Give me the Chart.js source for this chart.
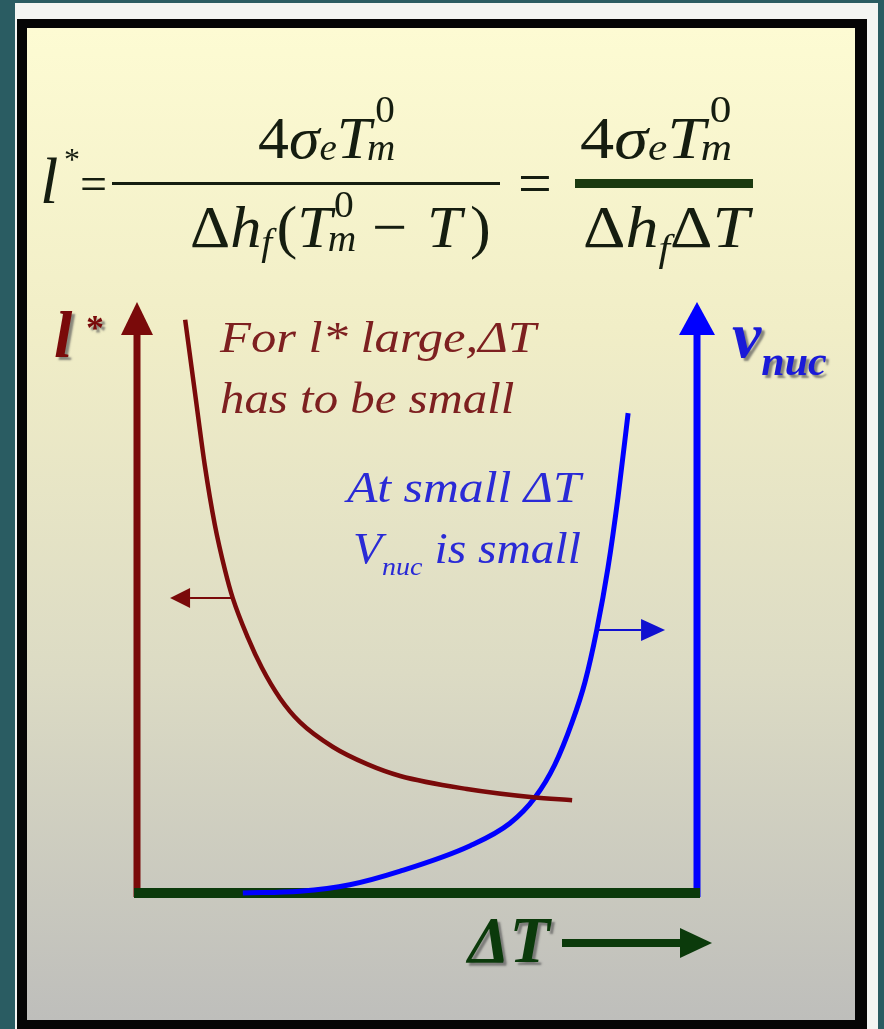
<!DOCTYPE html>
<html>
<head>
<meta charset="utf-8">
<script src="https://cdn.jsdelivr.net/npm/chart.js@4.4.1/dist/chart.umd.min.js"></script>
<style>
html, body { margin: 0; padding: 0; background: #2a5c62; overflow: hidden; }
canvas { display: block; }
</style>
</head>
<body>
<canvas id="lamellaChart" width="884" height="1029"></canvas>
<script>
// undercooling in arbitrary units, 0 at the l* axis and 100 at the v_nuc axis
var lamellaDT = [8.6, 10.4, 12.1, 13.9, 15.7, 17.1, 19.8, 22.3, 25.5, 29.1, 35.0, 41.1, 47.0, 58.9, 70.7, 77.7];
var lamellaL = [97.0, 84.3, 72.4, 62.3, 54.7, 49.9, 43.2, 38.1, 33.0, 28.9, 24.7, 21.8, 19.8, 17.6, 16.2, 15.7];
var nucDT = [18.9, 29.1, 38.0, 47.0, 59.5, 66.6, 71.1, 74.6, 77.7, 80.0, 82.1, 84.1, 85.9, 87.7];
var nucRate = [0, 0.3, 1.4, 3.7, 8.0, 11.8, 16.2, 21.7, 28.9, 35.7, 44.5, 55.0, 67.0, 81.2];

var RED = '#7a0a0a';
var BLUE = '#0000ff';
var GREEN = '#0b3a0b';
var SERIF = '"Liberation Serif", "Times New Roman", serif';

function pairs(xs, ys) {
    return xs.map(function (x, i) { return { x: x, y: ys[i] }; });
}

function fontOf(p) {
    return (p.i ? 'italic ' : '') + (p.b ? 'bold ' : '') + p.s + 'px ' + SERIF;
}
function pieceWidth(ctx, p) {
    if (p.stack) return Math.max(pieceWidth(ctx, p.stack[0]), pieceWidth(ctx, p.stack[1]));
    ctx.font = fontOf(p);
    return ctx.measureText(p.t).width + (p.gap || 0) + (p.dx || 0);
}
function drawPieces(ctx, pieces, x, y) {
    pieces.forEach(function (p) {
        if (p.stack) {
            drawPieces(ctx, [p.stack[0]], x, y);
            drawPieces(ctx, [p.stack[1]], x, y);
        } else {
            ctx.font = fontOf(p);
            ctx.fillText(p.t, x + (p.dx || 0), y + (p.dy || 0));
        }
        x += pieceWidth(ctx, p);
    });
}
// horizontally stretched text, like the slide
function wideText(ctx, pieces, x, y, sx) {
    ctx.save();
    ctx.translate(x, y);
    ctx.scale(sx, 1);
    drawPieces(ctx, pieces, 0, 0);
    ctx.restore();
}

function arrow(ctx, x0, y0, x1, y1, width, headLen, headHalf, color) {
    var a = Math.atan2(y1 - y0, x1 - x0);
    var bx = x1 - Math.cos(a) * headLen, by = y1 - Math.sin(a) * headLen;
    ctx.strokeStyle = color;
    ctx.fillStyle = color;
    ctx.lineWidth = width;
    ctx.lineCap = 'butt';
    ctx.beginPath();
    ctx.moveTo(x0, y0);
    ctx.lineTo(bx, by);
    ctx.stroke();
    ctx.beginPath();
    ctx.moveTo(x1, y1);
    ctx.lineTo(bx - Math.sin(a) * headHalf, by + Math.cos(a) * headHalf);
    ctx.lineTo(bx + Math.sin(a) * headHalf, by - Math.cos(a) * headHalf);
    ctx.closePath();
    ctx.fill();
}

var backdrop = {
    id: 'backdrop',
    beforeDraw: function (chart) {
        var ctx = chart.ctx, W = chart.width, H = chart.height;
        ctx.save();
        ctx.fillStyle = '#2a5c62';
        ctx.fillRect(0, 0, W, H);
        ctx.fillStyle = '#f3f5f2';
        ctx.fillRect(15, 3, 863, H - 3);
        ctx.fillStyle = '#050505';
        ctx.fillRect(17, 19, 850, H - 19);
        var g = ctx.createLinearGradient(0, 28, 0, 1020);
        g.addColorStop(0, '#fdfbd3');
        g.addColorStop(0.3, '#f1eec7');
        g.addColorStop(0.65, '#dcdbc4');
        g.addColorStop(1, '#bebebb');
        ctx.fillStyle = g;
        ctx.fillRect(27, 28, 828, 992);
        ctx.restore();
    }
};

var axesArrows = {
    id: 'axesArrows',
    beforeDatasetsDraw: function (chart) {
        var ctx = chart.ctx, xs = chart.scales.x, ys = chart.scales.y;
        var left = xs.getPixelForValue(0), right = xs.getPixelForValue(100);
        var bottom = ys.getPixelForValue(0), top = ys.getPixelForValue(100);
        ctx.save();
        arrow(ctx, left, bottom + 4, left, top, 7, 33, 16, RED);
        arrow(ctx, right, bottom + 4, right, top, 7, 33, 18, BLUE);
        ctx.fillStyle = GREEN;
        ctx.fillRect(left - 3, bottom - 5, right - left + 6, 10);
        ctx.restore();
    },
    afterDatasetsDraw: function (chart) {
        var ctx = chart.ctx, xs = chart.scales.x, ys = chart.scales.y;
        ctx.save();
        // small arrows pointing each curve to its own axis
        var ly = ys.getPixelForValue(lamellaL[5]);
        arrow(ctx, xs.getPixelForValue(lamellaDT[5]), ly, xs.getPixelForValue(5.9), ly, 2, 20, 10, RED);
        var ny = ys.getPixelForValue(nucRate[10]);
        arrow(ctx, xs.getPixelForValue(nucDT[10]), ny, xs.getPixelForValue(94.3), ny, 2, 24, 11, '#1010d0');
        ctx.restore();
    }
};

var labels = {
    id: 'labels',
    afterDraw: function (chart) {
        var ctx = chart.ctx, xs = chart.scales.x;
        ctx.save();
        ctx.textAlign = 'left';
        ctx.textBaseline = 'alphabetic';

        // equation
        var F = 60, S = 38;
        ctx.fillStyle = '#151d10';
        drawPieces(ctx, [{ t: 'l', i: 1, s: 66 }], 40, 203);
        drawPieces(ctx, [{ t: '*', s: 32 }], 64, 170);
        drawPieces(ctx, [{ t: '=', s: 48 }], 80, 200);
        var numTm0 = { stack: [{ t: 'm', i: 1, s: S, dy: 2 }, { t: '0', s: S, dx: 8, dy: -36 }] };
        var denTm0 = { stack: [{ t: 'm', i: 1, s: S, dy: 4 }, { t: '0', s: S, dx: 6, dy: -30 }] };
        var num = [{ t: '4', s: F }, { t: 'σ', i: 1, s: F }, { t: 'e', i: 1, s: S, dy: 2 },
            { t: 'T', i: 1, s: F, gap: -4 }, numTm0];
        wideText(ctx, num, 258, 158, 1.03);
        wideText(ctx, [{ t: 'Δ', s: F }, { t: 'h', i: 1, s: F }, { t: 'f', i: 1, s: S, dy: 8, gap: 4 },
            { t: '(', s: F }, { t: 'T', i: 1, s: F, gap: -4 }, denTm0, { t: ' − ', s: F, gap: 4 },
            { t: 'T', i: 1, s: F, gap: 8 }, { t: ')', s: F }], 190, 247, 1.04);
        ctx.fillRect(112, 182, 388, 3);
        drawPieces(ctx, [{ t: '=', s: 60 }], 518, 203);
        wideText(ctx, num, 580, 158, 1.14);
        wideText(ctx, [{ t: 'Δ', s: F }, { t: 'h', i: 1, s: F }, { t: 'f', i: 1, s: S, dy: 14 },
            { t: 'Δ', s: F }, { t: 'T', i: 1, s: F }], 583, 247, 1.1);
        ctx.fillStyle = '#1b3a10';
        ctx.fillRect(575, 179, 178, 9);

        // axis names, bold italic with a soft shadow
        ctx.shadowColor = 'rgba(90, 90, 90, 0.7)';
        ctx.shadowOffsetX = 3;
        ctx.shadowOffsetY = 3;
        ctx.shadowBlur = 2;
        ctx.fillStyle = RED;
        drawPieces(ctx, [{ t: 'l', i: 1, b: 1, s: 66 }], 54, 357);
        drawPieces(ctx, [{ t: '*', b: 1, s: 36 }], 86, 340);
        ctx.fillStyle = '#1a1ad8';
        drawPieces(ctx, [{ t: 'v', i: 1, b: 1, s: 66 }, { t: 'nuc', i: 1, b: 1, s: 42, dy: 18 }], 732, 357);
        ctx.fillStyle = GREEN;
        drawPieces(ctx, [{ t: 'ΔT', i: 1, b: 1, s: 66 }], 468, 962);
        ctx.shadowColor = 'rgba(0,0,0,0)';
        arrow(ctx, 562, 943, xs.getPixelForValue(100) + 15, 943, 8, 32, 15, GREEN);

        // notes
        ctx.fillStyle = '#7d2020';
        wideText(ctx, [{ t: 'For l* large,ΔT', i: 1, s: 44 }], 220, 352, 1.15);
        wideText(ctx, [{ t: 'has to be small', i: 1, s: 44 }], 220, 413, 1.11);
        ctx.fillStyle = '#2a2ad6';
        wideText(ctx, [{ t: 'At small ΔT', i: 1, s: 44 }], 347, 502, 1.13);
        wideText(ctx, [{ t: 'V', i: 1, s: 44 }, { t: 'nuc', i: 1, s: 26, dy: 12 }, { t: ' is small', i: 1, s: 44 }], 353, 563, 1.08);
        ctx.restore();
    }
};

new Chart(document.getElementById('lamellaChart').getContext('2d'), {
    type: 'scatter',
    data: {
        datasets: [
            {
                label: 'l*',
                data: pairs(lamellaDT, lamellaL),
                showLine: true,
                borderColor: RED,
                borderWidth: 4.5,
                pointRadius: 0,
                cubicInterpolationMode: 'monotone',
                clip: false
            },
            {
                label: 'v_nuc',
                data: pairs(nucDT, nucRate),
                showLine: true,
                borderColor: BLUE,
                borderWidth: 5,
                pointRadius: 0,
                cubicInterpolationMode: 'monotone',
                clip: false
            }
        ]
    },
    options: {
        responsive: false,
        animation: false,
        devicePixelRatio: 1,
        layout: { padding: { left: 137, right: 187, top: 302, bottom: 136 } },
        scales: {
            x: { type: 'linear', min: 0, max: 100, display: false },
            y: { type: 'linear', min: 0, max: 100, display: false }
        },
        plugins: {
            legend: { display: false },
            tooltip: { enabled: false }
        }
    },
    plugins: [backdrop, axesArrows, labels]
});
</script>
</body>
</html>
